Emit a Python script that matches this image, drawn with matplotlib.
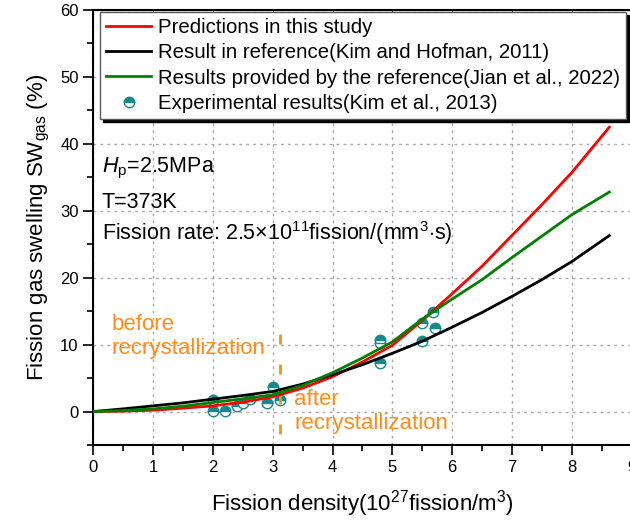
import numpy as np
import matplotlib
matplotlib.use('Agg')
import matplotlib.pyplot as plt

plt.rcParams['font.family'] = ['Liberation Sans', 'DejaVu Sans']
plt.rcParams['mathtext.fontset'] = 'custom'
plt.rcParams['mathtext.rm'] = 'Liberation Sans'
plt.rcParams['mathtext.it'] = 'Liberation Sans:italic'

red = '#FF0000'
black = '#000000'
green = '#008000'
teal = '#17898A'
orange = '#FF8C1A'

# curves
x_curve = [0, 0.5, 1, 1.5, 2, 2.5, 3, 3.5, 4, 4.5, 5, 5.5, 6, 6.5, 7, 7.5, 8, 8.63]
y_pred = [0, 0.05, 0.2, 0.5, 0.85, 1.4, 2.2, 3.5, 5.2, 7.4, 9.9, 13.6, 17.6, 21.7, 26.3, 30.9, 35.7, 42.5]
y_kim = [0, 0.4, 0.85, 1.3, 1.85, 2.4, 3.0, 4.1, 5.5, 7.0, 8.7, 10.5, 12.6, 14.8, 17.2, 19.7, 22.4, 26.3]
y_jian = [0, 0.15, 0.4, 0.8, 1.35, 1.9, 2.5, 3.9, 5.8, 8.0, 10.4, 13.8, 16.8, 19.7, 23.0, 26.2, 29.4, 32.8]

# experimental points
exp_x = [2.0, 2.0, 2.2, 2.4, 2.5, 2.62, 2.9, 3.0, 3.12, 4.8, 4.8, 4.8, 5.5, 5.68, 5.72, 5.5]
exp_y = [1.7, 0.1, 0.1, 0.85, 1.35, 1.9, 1.35, 3.7, 1.7, 10.7, 10.2, 7.3, 13.3, 14.8, 12.5, 10.6]

labels = ['Predictions in this study',
          'Result in reference(Kim and Hofman, 2011)',
          'Results provided by the reference(Jian et al., 2022)',
          'Experimental results(Kim et al., 2013)']

recryst_x = 3.12

fig = plt.figure(figsize=(6.3, 5.21), dpi=100)
ax = fig.add_axes([93.3 / 630, 1 - 445 / 521, 538.2 / 630, 435 / 521])

ax.plot(x_curve, y_pred, color=red, lw=2, label=labels[0], zorder=3)
ax.plot(x_curve, y_kim, color=black, lw=2, label=labels[1], zorder=3)
ax.plot(x_curve, y_jian, color=green, lw=2, label=labels[2], zorder=3)
ax.plot(exp_x, exp_y, ls='none', marker='o', ms=7.5, fillstyle='top',
        markerfacecolor=teal, markerfacecoloralt='white', markeredgecolor=teal,
        markeredgewidth=1, label=labels[3], zorder=2)

ax.plot([recryst_x, recryst_x], [11.6, -3.6], color=orange, lw=2, ls=(0, (3.6, 7.2)))
ax.text(0.3, 11.2, 'before\nrecrystallization', color=orange, fontsize=16, va='center')
ax.text(3.36, 0.0, 'after\nrecrystallization', color=orange, fontsize=16, va='center')

ax.text(0.14, 36.3, r'$H_{\mathrm{p}}$=2.5MPa', fontsize=15.5, va='center')
ax.text(0.14, 31.3, 'T=373K', fontsize=15.5, va='center')
ax.text(0.14, 26.6, r'Fission rate: 2.5$\times$10$^{11}$fission/(mm$^3$$\cdot$s)',
        fontsize=15.5, va='center')

ax.set_xlim(0, 9)
ax.set_ylim(-5, 60)
ax.set_xticks(range(10))
ax.set_xticks(np.arange(0.5, 9, 1), minor=True)
ax.set_yticks(range(0, 61, 10))
ax.set_yticks(range(-5, 60, 10), minor=True)
ax.tick_params(which='major', direction='out', length=7, width=1.2, labelsize=12)
ax.tick_params(which='minor', direction='out', length=4, width=1.2)
ax.grid(True, which='major', color='#aaaaaa', ls=(0, (2, 3)), lw=1)
for s in ax.spines.values():
    s.set_linewidth(1.5)

top = ax.secondary_xaxis('top')
top.set_xticks(range(10))
top.tick_params(direction='in', length=3, labeltop=False)

ax.set_xlabel(r'Fission density(10$^{27}$fission/m$^3$)', fontsize=16, labelpad=10)
ax.set_ylabel(r'Fission gas swelling SW$_{\mathrm{gas}}$ (%)', fontsize=16, labelpad=6)

leg = ax.legend(loc='upper left', bbox_to_anchor=(0.0125, 0.995), borderaxespad=0,
                fontsize=14.7, fancybox=False, framealpha=1, edgecolor='0.35',
                handlelength=2.2, handletextpad=0.35, labelspacing=0.3,
                borderpad=0.3, numpoints=1,
                shadow={'color': 'black', 'alpha': 1})
leg.get_frame().set_linewidth(1)

fig.savefig('out.png', dpi=100)
